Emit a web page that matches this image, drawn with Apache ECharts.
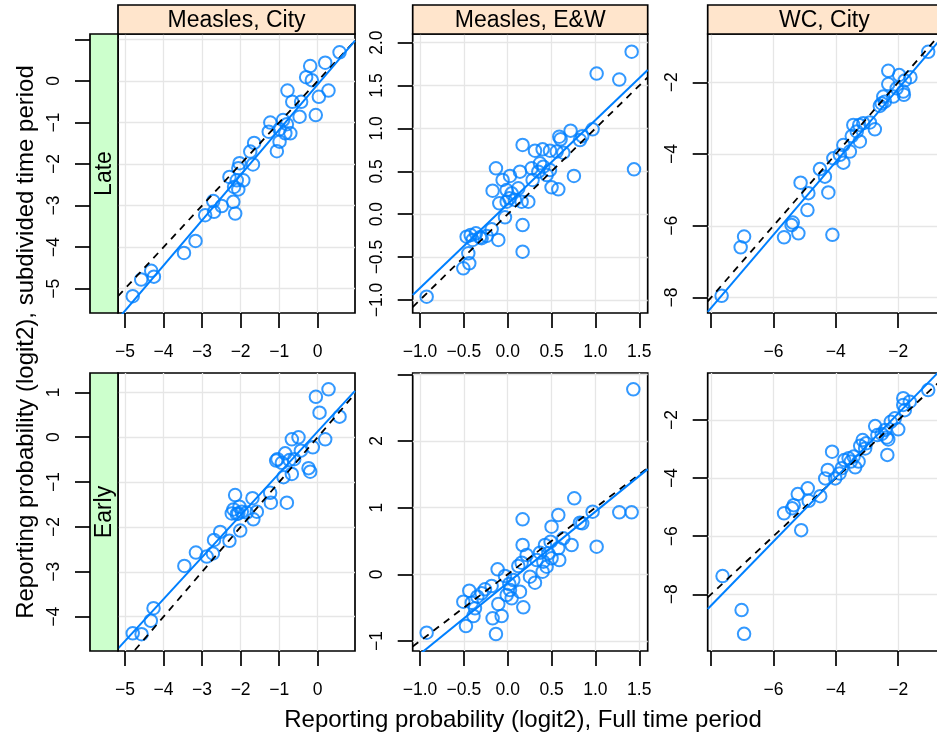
<!DOCTYPE html>
<html><head><meta charset="utf-8">
<script src="https://cdn.jsdelivr.net/npm/echarts@6/dist/echarts.min.js"></script>
<style>html,body{margin:0;padding:0;background:#fff}#c{width:937px;height:737px}</style>
</head><body><div id="c"></div>
<script>
// ---------------- data ----------------
const rowNames = ['Late', 'Early'];
const colNames = ['Measles, City', 'Measles, E&W', 'WC, City'];

const lateCityX = [0.567,0.195,-0.195,-0.30,-0.152,-0.784,0.28,0.03,-0.66,-0.43,-0.47,-0.05,-1.23,-0.90,-0.80,-1.27,-0.99,-0.71,-0.84,-0.99,-1.06,-1.65,-1.75,-1.68,-2.03,-2.06,-2.29,-2.10,-1.93,-2.17,-2.06,-2.19,-2.14,-2.71,-2.49,-2.69,-2.92,-3.17,-3.47,-4.32,-4.58,-4.25,-4.80];
const lateCityY = [0.69,0.44,0.36,0.09,0.02,-0.23,-0.23,-0.38,-0.50,-0.50,-0.86,-0.82,-1.00,-0.94,-1.04,-1.22,-1.16,-1.26,-1.26,-1.46,-1.69,-1.49,-1.70,-2.01,-1.98,-2.10,-2.31,-2.39,-2.39,-2.55,-2.61,-2.91,-3.19,-2.89,-3.01,-3.15,-3.23,-3.85,-4.14,-4.57,-4.78,-4.71,-5.18];

const lateEWX = [1.413,1.014,1.272,1.44,0.968,0.717,0.824,0.85,0.588,0.603,0.482,0.558,0.634,0.398,0.311,0.17,0.755,0.577,0.50,0.482,0.406,0.349,0.444,0.284,0.368,0.273,0.14,-0.134,0.026,-0.058,-0.172,-0.012,0.045,0.121,-0.096,-0.012,0.083,0.159,0.235,0.018,0.17,0.17,-0.031,-0.183,-0.107,-0.24,-0.316,-0.362,-0.422,-0.468,-0.40,-0.449,-0.438,-0.506,-0.924,-0.297];
const lateEWY = [1.895,1.64,1.57,0.523,0.99,0.974,0.865,0.91,0.904,0.873,0.74,0.73,0.717,0.756,0.74,0.807,0.446,0.29,0.313,0.515,0.554,0.496,0.457,0.399,0.593,0.535,0.496,0.535,0.446,0.399,0.274,0.282,0.243,0.302,0.127,0.146,0.166,0.146,0.146,0.185,-0.126,-0.437,-0.037,-0.176,-0.30,-0.254,-0.27,-0.223,-0.243,-0.262,-0.30,-0.456,-0.573,-0.631,-0.962,-0.28];

const lateWCX = [-1.04,-2.32,-1.97,-1.61,-1.79,-2.32,-2.05,-1.84,-1.82,-2.16,-2.48,-2.43,-2.59,-2.53,-2.91,-2.75,-3.12,-3.25,-3.44,-3.33,-3.49,-3.23,-3.76,-3.55,-3.87,-4.08,-3.76,-4.51,-4.35,-4.24,-5.13,-4.88,-4.91,-5.38,-5.66,-5.20,-4.11,-6.94,-7.05,-7.66,-5.42];
const lateWCY = [-1.15,-1.68,-1.80,-1.86,-1.95,-2.05,-2.17,-2.26,-2.35,-2.40,-2.40,-2.54,-2.66,-2.59,-3.12,-3.31,-3.14,-3.19,-3.19,-3.37,-3.50,-3.65,-3.75,-3.93,-4.02,-4.12,-4.24,-4.42,-4.63,-5.07,-4.80,-5.09,-5.56,-5.91,-6.32,-6.21,-6.25,-6.30,-6.60,-7.95,-5.98];

const earlyCityX = [0.281,-0.047,0.048,0.567,0.195,-0.498,-0.671,-0.126,-0.437,-0.844,-1.043,-1.078,-0.93,-0.73,-0.61,-0.238,-0.195,-0.671,-0.887,-1.234,-1.216,-0.80,-2.143,-1.693,-2.186,-2.03,-1.97,-2.23,-2.10,-1.84,-1.58,-1.67,-2.01,-2.29,-2.53,-2.69,-2.72,-2.88,-3.16,-3.46,-4.26,-4.33,-4.80,-4.57,-2.06];
const earlyCityY = [1.067,0.90,0.547,0.458,-0.048,-0.003,-0.048,-0.226,-0.30,-0.36,-0.49,-0.52,-0.57,-0.51,-0.49,-0.69,-0.77,-0.82,-0.89,-1.24,-1.46,-1.46,-1.29,-1.36,-1.61,-1.55,-1.66,-1.70,-1.71,-1.68,-1.66,-1.83,-2.08,-2.31,-2.11,-2.29,-2.59,-2.66,-2.57,-2.87,-3.81,-4.09,-4.37,-4.39,-1.70];

const earlyEWX = [1.432,0.759,0.968,1.272,1.413,1.014,0.577,0.50,0.824,0.85,0.17,0.17,0.634,0.729,0.489,0.425,0.577,0.368,0.463,0.588,0.50,0.406,0.33,0.444,0.398,0.216,0.159,0.121,0.254,0.311,0.14,0.178,-0.115,-0.031,0.064,0.018,0.026,-0.012,0.045,-0.107,-0.069,-0.172,-0.134,-0.183,-0.259,-0.438,-0.506,-0.41,-0.373,-0.39,-0.476,-0.924,-0.346,-0.297];
const earlyEWY = [2.775,1.14,0.94,0.93,0.93,0.415,0.89,0.715,0.775,0.765,0.825,0.44,0.54,0.44,0.49,0.44,0.39,0.325,0.315,0.215,0.24,0.19,0.215,0.115,0.04,0.29,0.175,0.125,-0.035,-0.125,-0.26,-0.495,0.075,-0.025,-0.085,-0.145,-0.235,-0.31,-0.36,-0.445,-0.625,-0.66,-0.895,-0.175,-0.225,-0.245,-0.41,-0.425,-0.51,-0.625,-0.775,-0.875,-0.335,-0.285];

const earlyWCX = [-1.04,-1.84,-1.63,-1.84,-1.79,-2.11,-2.24,-2.0,-2.74,-2.42,-2.53,-2.37,-2.67,-2.32,-2.35,-3.14,-3.03,-3.22,-3.06,-4.12,-3.43,-3.59,-3.73,-3.52,-3.27,-3.38,-3.81,-3.88,-4.26,-4.02,-4.34,-4.50,-4.90,-5.22,-4.87,-5.35,-5.40,-5.66,-5.11,-7.63,-7.02,-6.94];
const earlyWCY = [-0.97,-1.25,-1.37,-1.48,-1.66,-1.94,-2.06,-2.32,-2.21,-2.34,-2.48,-2.60,-2.52,-2.67,-3.20,-2.69,-2.80,-2.89,-2.98,-3.09,-3.26,-3.32,-3.38,-3.43,-3.43,-3.63,-3.66,-3.84,-3.72,-4.01,-4.01,-4.62,-4.35,-4.55,-4.78,-4.93,-5.04,-5.21,-5.79,-7.37,-8.54,-9.36];

// axis limits and ticks
const xLimCity = [-5.182, 0.968], xLimEW = [-1.083, 1.596], xLimWC = [-8.106, -0.63];
const xTicksCity = [-5,-4,-3,-2,-1,0], xLabelsCity = [-5,-4,-3,-2,-1,0];
const xTicksEW = [-1,-0.5,0,0.5,1,1.5], xLabelsEW = [-1,-0.5,0,0.5,1,1.5];
const xTicksWC = [-8,-6,-4,-2], xLabelsWC = [-6,-4,-2];

const yLimLateCity = [-5.585, 1.131], yTicksLateCity = [-5,-4,-3,-2,-1,0,1], yLabelsLateCity = [-5,-4,-3,-2,-1,0];
const yLimLateEW = [-1.152, 2.101], yTicksLateEW = [-1,-0.5,0,0.5,1,1.5,2], yLabelsLateEW = [-1,-0.5,0,0.5,1,1.5,2];
const yLimLateWC = [-8.43, -0.655], yTicksLateWC = [-8,-6,-4,-2], yLabelsLateWC = [-8,-6,-4,-2];
const yLimEarlyCity = [-4.764, 1.43], yTicksEarlyCity = [-4,-3,-2,-1,0,1], yLabelsEarlyCity = [-4,-3,-2,-1,0,1];
const yLimEarlyEW = [-1.15, 3.02], yTicksEarlyEW = [-1,0,1,2,3], yLabelsEarlyEW = [-1,0,1,2];
const yLimEarlyWC = [-9.95, -0.382], yTicksEarlyWC = [-8,-6,-4,-2], yLabelsEarlyWC = [-8,-6,-4,-2];

// ---------------- layout / style ----------------
const FONT = '"Liberation Sans", Arial, Helvetica, sans-serif';
const BLUE = '#0080ff';
const colLeft = [118, 412.7, 707.7], colWidth = [237, 235, 233.3];
const rowTop = [34, 373], rowHeight = [279, 278];
const stripTop = 5, stripH = 29, leftStripX = 90, leftStripW = 28;

const cols = [
  {xLim: xLimCity, xTicks: xTicksCity, xLabels: xLabelsCity, xDec: 0},
  {xLim: xLimEW, xTicks: xTicksEW, xLabels: xLabelsEW, xDec: 1},
  {xLim: xLimWC, xTicks: xTicksWC, xLabels: xLabelsWC, xDec: 0}
];
const panels = [
  {r:0,c:0,xs:lateCityX,ys:lateCityY,yLim:yLimLateCity,yTicks:yTicksLateCity,yLabels:yLabelsLateCity,yDec:0},
  {r:0,c:1,xs:lateEWX,ys:lateEWY,yLim:yLimLateEW,yTicks:yTicksLateEW,yLabels:yLabelsLateEW,yDec:1},
  {r:0,c:2,xs:lateWCX,ys:lateWCY,yLim:yLimLateWC,yTicks:yTicksLateWC,yLabels:yLabelsLateWC,yDec:0},
  {r:1,c:0,xs:earlyCityX,ys:earlyCityY,yLim:yLimEarlyCity,yTicks:yTicksEarlyCity,yLabels:yLabelsEarlyCity,yDec:0},
  {r:1,c:1,xs:earlyEWX,ys:earlyEWY,yLim:yLimEarlyEW,yTicks:yTicksEarlyEW,yLabels:yLabelsEarlyEW,yDec:0},
  {r:1,c:2,xs:earlyWCX,ys:earlyWCY,yLim:yLimEarlyWC,yTicks:yTicksEarlyWC,yLabels:yLabelsEarlyWC,yDec:0}
];

const fmt = d => v => (d ? Number(v).toFixed(d) : String(Math.round(v * 1000) / 1000)).replace('-', '\u2212');

function lmFit(xs, ys) {
  const n = xs.length;
  let mx = 0, my = 0;
  for (let i = 0; i < n; i++) { mx += xs[i]; my += ys[i]; }
  mx /= n; my /= n;
  let sxy = 0, sxx = 0;
  for (let i = 0; i < n; i++) { sxy += (xs[i]-mx)*(ys[i]-my); sxx += (xs[i]-mx)*(xs[i]-mx); }
  const b = sxy / sxx;
  return [my - b*mx, b];
}

const grids = [], xAxes = [], yAxes = [], series = [];
const tickStyle = {color: '#000', width: 1.7};
const splitStyle = {color: '#e6e6e6', width: 1.3};
const labelStyle = {fontSize: 17.5, color: '#000', fontFamily: FONT};

panels.forEach((p, i) => {
  const col = cols[p.c];
  grids.push({
    left: colLeft[p.c], top: rowTop[p.r], width: colWidth[p.c], height: rowHeight[p.r],
    show: true, borderColor: '#000', borderWidth: 1.7, backgroundColor: '#fff',
    containLabel: false, outerBoundsMode: 'none'
  });
  xAxes.push({
    gridIndex: i, type: 'value', min: col.xLim[0], max: col.xLim[1], position: 'bottom',
    axisLine: {show: false, onZero: false},
    axisTick: {show: true, inside: false, length: 15, customValues: col.xTicks, lineStyle: tickStyle},
    axisLabel: Object.assign({show: true, margin: 30, customValues: col.xLabels, formatter: fmt(col.xDec)}, labelStyle),
    splitLine: {show: true, lineStyle: splitStyle}
  });
  yAxes.push({
    gridIndex: i, type: 'value', min: p.yLim[0], max: p.yLim[1], position: 'left',
    offset: p.c === 0 ? leftStripW : 0,
    axisLine: {show: false, onZero: false},
    axisTick: {show: true, inside: false, length: 15, customValues: p.yTicks, lineStyle: tickStyle},
    axisLabel: Object.assign({show: true, rotate: 90, margin: 27, customValues: p.yLabels, formatter: fmt(p.yDec)}, labelStyle),
    splitLine: {show: true, lineStyle: splitStyle}
  });
  series.push({
    type: 'scatter', xAxisIndex: i, yAxisIndex: i, silent: true, z: 2,
    symbol: 'circle', symbolSize: 12.5,
    itemStyle: {color: 'rgba(0,0,0,0)', borderColor: BLUE, borderWidth: 2},
    data: p.xs.map((x, k) => [x, p.ys[k]])
  });
  const x0 = col.xLim[0], x1 = col.xLim[1];
  series.push({
    type: 'line', xAxisIndex: i, yAxisIndex: i, silent: true, z: 3, clip: true,
    symbol: 'none', showSymbol: false,
    lineStyle: {color: '#000', width: 1.8, type: [7, 6]},
    data: [[x0, x0], [x1, x1]]
  });
  const [a, b] = lmFit(p.xs, p.ys);
  series.push({
    type: 'line', xAxisIndex: i, yAxisIndex: i, silent: true, z: 4, clip: true,
    symbol: 'none', showSymbol: false,
    lineStyle: {color: BLUE, width: 2},
    data: [[x0, a + b*x0], [x1, a + b*x1]]
  });
});

const graphics = [];
colNames.forEach((name, c) => {
  graphics.push({type: 'rect', z: 10, shape: {x: colLeft[c], y: stripTop, width: colWidth[c], height: stripH},
    style: {fill: '#ffe5cc', stroke: '#000', lineWidth: 1.7}});
  graphics.push({type: 'text', z: 11, x: colLeft[c] + colWidth[c]/2, y: stripTop + stripH/2 + 1,
    style: {text: name, fill: '#000', font: '23px ' + FONT, textAlign: 'center', textVerticalAlign: 'middle', align: 'center', verticalAlign: 'middle'}});
});
rowNames.forEach((name, r) => {
  graphics.push({type: 'rect', z: 10, shape: {x: leftStripX, y: rowTop[r], width: leftStripW, height: rowHeight[r]},
    style: {fill: '#ccffcc', stroke: '#000', lineWidth: 1.7}});
  graphics.push({type: 'text', z: 11, x: leftStripX + leftStripW/2 + 1, y: rowTop[r] + rowHeight[r]/2, rotation: Math.PI/2,
    style: {text: name, fill: '#000', font: '23px ' + FONT, textAlign: 'center', textVerticalAlign: 'middle', align: 'center', verticalAlign: 'middle'}});
});
graphics.push({type: 'text', z: 11, x: 523, y: 720,
  style: {text: 'Reporting probability (logit2), Full time period', fill: '#000', font: '24px ' + FONT,
    textAlign: 'center', textVerticalAlign: 'middle', align: 'center', verticalAlign: 'middle'}});
graphics.push({type: 'text', z: 11, x: 26, y: 342, rotation: Math.PI/2,
  style: {text: 'Reporting probability (logit2), subdivided time period', fill: '#000', font: '24px ' + FONT,
    textAlign: 'center', textVerticalAlign: 'middle', align: 'center', verticalAlign: 'middle'}});

const chart = echarts.init(document.getElementById('c'), null, {renderer: 'canvas'});
chart.setOption({
  animation: false,
  backgroundColor: '#fff',
  textStyle: {fontFamily: FONT},
  grid: grids, xAxis: xAxes, yAxis: yAxes, series: series,
  graphic: {elements: graphics}
});
</script></body></html>
